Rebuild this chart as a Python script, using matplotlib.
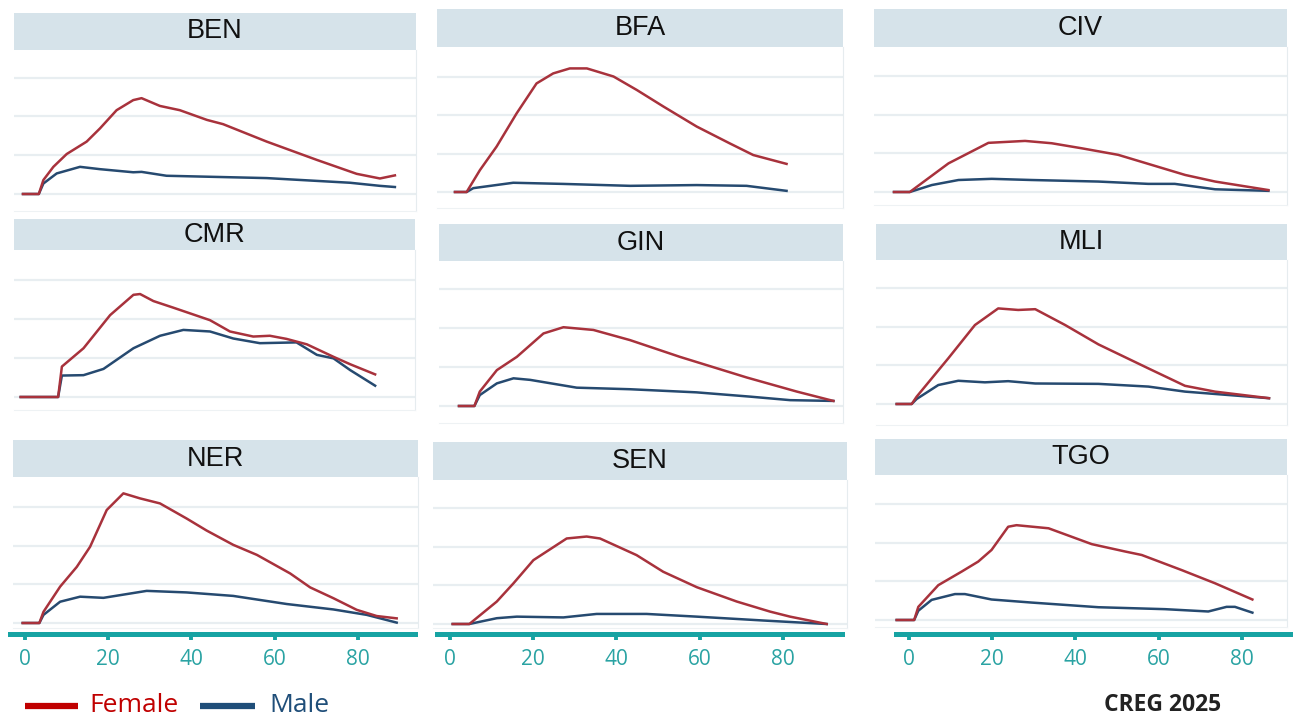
import matplotlib.pyplot as plt
from matplotlib.lines import Line2D

W, H = 1293, 718
PX_PER_YEAR = 4.16

FEMALE_COLOR = "#a8323c"
MALE_COLOR = "#264a70"
HEADER_COLOR = "#d6e3ea"
GRID_COLOR = "#e8eef1"
TEAL = "#17a3a3"

COUNTRIES = ["BEN", "BFA", "CIV", "CMR", "GIN", "MLI", "NER", "SEN", "TGO"]
AGE_TICKS = [0, 20, 40, 60, 80]

# values, in units of one grid step
BEN_F_AGE = [0, 3.8, 4.9, 7.3, 10.5, 15.3, 18.5, 22.5, 26.5, 28.5, 32.9, 37.7, 44.2, 48.1, 58.6, 70.6, 80.2, 85.8, 89.4]
BEN_F = [0, 0, 0.36, 0.70, 1.03, 1.35, 1.69, 2.16, 2.42, 2.47, 2.27, 2.16, 1.91, 1.80, 1.35, 0.88, 0.52, 0.40, 0.48]
BEN_M_AGE = [0, 3.8, 4.9, 8.1, 13.7, 18.5, 26.5, 28.5, 34.5, 42.5, 58.6, 78.6, 85.8, 89.4]
BEN_M = [0, 0, 0.27, 0.53, 0.70, 0.64, 0.56, 0.57, 0.47, 0.45, 0.41, 0.29, 0.21, 0.18]

BFA_F_AGE = [0, 2.8, 6.0, 10.0, 14.8, 19.6, 23.6, 27.6, 31.7, 38.1, 43.7, 50.1, 58.1, 66.1, 71.7, 79.7]
BFA_F = [0, 0, 0.57, 1.18, 2.04, 2.82, 3.08, 3.21, 3.21, 3.00, 2.65, 2.22, 1.70, 1.26, 0.96, 0.73]
BFA_M_AGE = [0, 2.8, 4.4, 14.0, 26.0, 42.1, 58.1, 70.1, 79.7]
BFA_M = [0, 0, 0.10, 0.24, 0.21, 0.16, 0.18, 0.16, 0.03]

CIV_F_AGE = [0, 3.8, 13.1, 22.7, 31.5, 37.9, 45.1, 53.9, 63.5, 70.0, 77.2, 83.6, 90.0]
CIV_F = [0, 0, 0.74, 1.27, 1.32, 1.26, 1.13, 0.96, 0.65, 0.44, 0.27, 0.16, 0.05]
CIV_M_AGE = [0, 3.8, 9.1, 15.5, 23.5, 33.1, 49.1, 61.1, 67.5, 77.2, 90.0]
CIV_M = [0, 0, 0.18, 0.31, 0.34, 0.31, 0.27, 0.21, 0.21, 0.07, 0.03]

CMR_F_AGE = [0, 9.0, 9.9, 15.1, 21.5, 27.1, 28.7, 31.9, 36.7, 45.5, 50.3, 55.9, 59.9, 63.9, 68.8, 75.2, 79.2, 85.2]
CMR_F = [0, 0, 0.78, 1.25, 2.10, 2.62, 2.64, 2.46, 2.29, 1.97, 1.68, 1.55, 1.57, 1.49, 1.35, 1.03, 0.84, 0.58]
CMR_M_AGE = [0, 9.0, 9.9, 15.1, 19.9, 27.1, 33.5, 39.1, 45.5, 51.1, 57.5, 66.3, 71.2, 75.2, 79.2, 85.2]
CMR_M = [0, 0, 0.55, 0.56, 0.72, 1.25, 1.57, 1.72, 1.68, 1.50, 1.38, 1.40, 1.08, 0.99, 0.69, 0.29]

GIN_F_AGE = [0, 3.7, 5.0, 9.1, 13.9, 20.3, 25.1, 32.3, 41.1, 53.1, 69.2, 81.2, 90.0]
GIN_F = [0, 0, 0.37, 0.92, 1.26, 1.86, 2.02, 1.95, 1.69, 1.26, 0.73, 0.37, 0.13]
GIN_M_AGE = [0, 3.7, 5.0, 9.1, 13.1, 17.1, 28.3, 41.1, 57.1, 70.0, 79.6, 90.0]
GIN_M = [0, 0, 0.28, 0.58, 0.71, 0.67, 0.47, 0.43, 0.35, 0.24, 0.15, 0.13]

MLI_F_AGE = [0, 3.6, 4.8, 12.4, 18.8, 24.4, 29.2, 33.3, 40.5, 48.5, 60.5, 69.3, 76.5, 89.5]
MLI_F = [0, 0, 0.19, 1.18, 2.04, 2.47, 2.43, 2.45, 2.04, 1.54, 0.92, 0.47, 0.32, 0.15]
MLI_M_AGE = [0, 3.6, 4.8, 10.0, 14.8, 21.2, 26.8, 33.3, 48.5, 60.5, 69.3, 89.5]
MLI_M = [0, 0, 0.13, 0.49, 0.60, 0.56, 0.59, 0.53, 0.52, 0.45, 0.32, 0.15]

NER_F_AGE = [0, 4.0, 5.0, 9.0, 13.0, 16.2, 20.2, 24.2, 28.2, 33.0, 39.4, 44.2, 50.6, 56.3, 64.3, 69.1, 74.7, 80.3, 85.1, 89.9]
NER_F = [0, 0, 0.29, 0.94, 1.45, 1.97, 2.92, 3.35, 3.22, 3.09, 2.70, 2.39, 2.02, 1.76, 1.28, 0.92, 0.64, 0.34, 0.18, 0.12]
NER_M_AGE = [0, 4.0, 5.0, 9.0, 13.8, 19.4, 29.8, 39.4, 50.6, 63.5, 74.7, 82.7, 89.9]
NER_M = [0, 0, 0.21, 0.55, 0.68, 0.65, 0.83, 0.79, 0.70, 0.49, 0.35, 0.21, 0.01]

SEN_F_AGE = [0, 4.0, 10.6, 14.6, 19.4, 27.4, 32.2, 35.4, 44.2, 50.6, 58.7, 68.3, 76.3, 81.1, 89.9]
SEN_F = [0, 0, 0.58, 1.05, 1.65, 2.21, 2.26, 2.21, 1.78, 1.35, 0.95, 0.58, 0.32, 0.19, 0.0]
SEN_M_AGE = [0, 4.0, 10.6, 15.4, 26.6, 34.6, 46.6, 58.7, 74.7, 89.9]
SEN_M = [0, 0, 0.15, 0.19, 0.17, 0.26, 0.26, 0.19, 0.09, 0.0]

TGO_F_AGE = [0, 4.2, 5.2, 10.0, 15.6, 19.6, 22.8, 26.8, 28.8, 36.5, 46.9, 54.9, 58.9, 68.5, 76.5, 85.5]
TGO_F = [0, 0, 0.34, 0.90, 1.25, 1.51, 1.81, 2.41, 2.45, 2.37, 1.96, 1.77, 1.68, 1.29, 0.95, 0.53]
TGO_M_AGE = [0, 4.2, 5.2, 8.4, 14.0, 16.4, 22.8, 32.5, 48.5, 64.5, 74.9, 79.3, 81.3, 85.5]
TGO_M = [0, 0, 0.24, 0.52, 0.67, 0.67, 0.53, 0.45, 0.33, 0.28, 0.22, 0.34, 0.34, 0.19]

FEMALE = [(BEN_F_AGE, BEN_F), (BFA_F_AGE, BFA_F), (CIV_F_AGE, CIV_F),
          (CMR_F_AGE, CMR_F), (GIN_F_AGE, GIN_F), (MLI_F_AGE, MLI_F),
          (NER_F_AGE, NER_F), (SEN_F_AGE, SEN_F), (TGO_F_AGE, TGO_F)]
MALE = [(BEN_M_AGE, BEN_M), (BFA_M_AGE, BFA_M), (CIV_M_AGE, CIV_M),
        (CMR_M_AGE, CMR_M), (GIN_M_AGE, GIN_M), (MLI_M_AGE, MLI_M),
        (NER_M_AGE, NER_M), (SEN_M_AGE, SEN_M), (TGO_M_AGE, TGO_M)]

# pixel layout of each pasted panel:
# left, right, header top, header bottom, plot bottom, baseline, grid step, age-0 x
PANELS = [
    (14, 416, 13, 50, 211, 194, 38.8, 23),
    (437, 843, 9, 47, 208, 192, 38.5, 455),
    (874, 1287, 9, 47, 205, 192, 38.7, 894),
    (14, 415, 219, 250, 410, 397, 39.0, 20.7),
    (439, 843, 224, 261, 423, 406, 39.0, 459),
    (876, 1287, 224, 260, 425, 404, 38.7, 896.7),
    (13, 418, 440, 477, 628, 623, 38.7, 22.7),
    (433, 847, 442, 480, 628, 624, 38.7, 452.7),
    (875, 1287, 439, 475, 627, 620, 38.7, 896.7),
]
# bottom age axes: left, right, x of tick 0
AXES_ROW = [(10, 415, 25), (437, 842, 450), (896, 1293, 909)]
AXIS_Y = 634


def fig_box(left, top, right, bottom):
    return [left / W, 1 - bottom / H, (right - left) / W, (bottom - top) / H]


fig = plt.figure(figsize=(W / 100, H / 100), dpi=100)

for name, (left, right, htop, hbot, pbot, base, step, start), fem, mal in zip(
        COUNTRIES, PANELS, FEMALE, MALE):
    hax = fig.add_axes(fig_box(left, htop, right, hbot))
    hax.set_facecolor(HEADER_COLOR)
    hax.set_xticks([])
    hax.set_yticks([])
    for s in hax.spines.values():
        s.set_visible(False)
    hax.text(0.5, 0.5, name, ha="center", va="center", fontsize=19.5,
             family="Liberation Sans", color="#111111")

    ax = fig.add_axes(fig_box(left, hbot, right, pbot))
    ax.set_xlim((left - start) / PX_PER_YEAR, (right - start) / PX_PER_YEAR)
    ax.set_ylim((base - pbot) / step, (base - hbot) / step)
    for y in [0, 1, 2, 3]:
        ax.axhline(y, color=GRID_COLOR, lw=1.6, zorder=0)
    ax.plot(fem[0], fem[1], color=FEMALE_COLOR, lw=1.8, zorder=3)
    ax.plot(mal[0], mal[1], color=MALE_COLOR, lw=1.8, zorder=2)
    ax.set_xticks([])
    ax.set_yticks([])
    ax.spines["left"].set_visible(False)
    ax.spines["top"].set_visible(False)
    ax.spines["right"].set_color("#e6ecef")
    ax.spines["bottom"].set_color("#eef2f4")

for left, right, zero in AXES_ROW:
    bax = fig.add_axes(fig_box(left, AXIS_Y - 2, right, AXIS_Y))
    bax.set_xlim((left - zero) / PX_PER_YEAR, (right - zero) / PX_PER_YEAR)
    bax.patch.set_visible(False)
    for s in ["left", "right", "top"]:
        bax.spines[s].set_visible(False)
    bax.spines["bottom"].set_color(TEAL)
    bax.spines["bottom"].set_linewidth(3.6)
    bax.set_yticks([])
    bax.set_xticks(AGE_TICKS)
    bax.set_xticklabels([str(t) for t in AGE_TICKS])
    bax.tick_params(axis="x", direction="out", length=4.5, width=2.8,
                    color=TEAL, labelcolor="#2aa3a3", labelsize=15, pad=6)
    for lab in bax.get_xticklabels():
        lab.set_family("Open Sans")

# legend drawn by hand along the bottom edge
fig.add_artist(Line2D([25 / W, 78 / W], [1 - 706 / H] * 2, color="#c00000",
                      lw=4.5, solid_capstyle="butt"))
fig.text(89 / W, 1 - 706 / H, "Female", color="#c00000", fontsize=19,
         family="Open Sans", va="center", ha="left")
fig.add_artist(Line2D([200 / W, 255 / W], [1 - 706 / H] * 2, color="#1f4e79",
                      lw=4.5, solid_capstyle="butt"))
fig.text(269 / W, 1 - 706 / H, "Male", color="#1f4e79", fontsize=19,
         family="Open Sans", va="center", ha="left")
fig.text(1163 / W, 1 - 705 / H, "CREG 2025", color="#222222", fontsize=16.5,
         family="Open Sans", fontweight="bold", va="center", ha="center")

fig.savefig("out.png", dpi=100, facecolor="white")
